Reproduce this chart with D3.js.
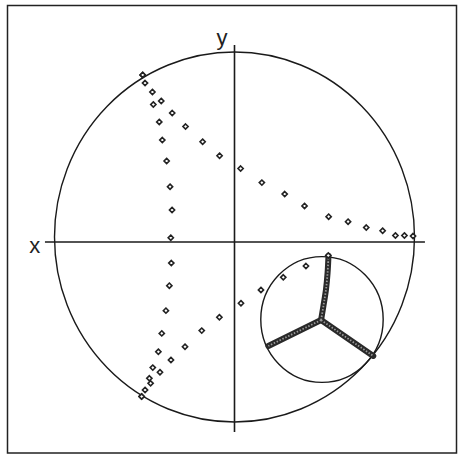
<!DOCTYPE html>
<html>
<head>
<meta charset="utf-8">
<script src="https://cdn.jsdelivr.net/npm/d3@7"></script>
<style>
  html, body { margin: 0; padding: 0; background: #fff; }
  svg { display: block; }
</style>
</head>
<body>
<svg id="chart" width="458" height="455"></svg>
<script>
// Projection-plane coordinates (unit circle = primitive), x to the right, y up.

// Great circle through the upper-left primitive point, running down the left side
const arcWestX = [-0.510, -0.497, -0.456, -0.451, -0.418, -0.401, -0.377, -0.358, -0.347, -0.354,
                  -0.351, -0.362, -0.381, -0.404, -0.423, -0.454, -0.473, -0.497, -0.516];
const arcWestY = [ 0.876,  0.832,  0.784,  0.716,  0.622,  0.524,  0.411,  0.272,  0.146, -0.004,
                  -0.141, -0.263, -0.398, -0.521, -0.620, -0.706, -0.764, -0.827, -0.862];

// Great circle from the upper-left primitive point to the east edge
const arcNorthX = [-0.510, -0.407, -0.346, -0.272, -0.177, -0.083, 0.034, 0.152, 0.279, 0.389,
                    0.523,  0.631,  0.732,  0.823,  0.894,  0.944, 0.992];
const arcNorthY = [ 0.876,  0.735,  0.670,  0.597,  0.515,  0.439, 0.370, 0.294, 0.232, 0.168,
                    0.110,  0.083,  0.051,  0.034,  0.008,  0.008, 0.005];

// Great circle from the lower-left primitive point toward the small circle
const arcSouthX = [-0.516, -0.466, -0.414, -0.353, -0.275, -0.182, -0.084, 0.036, 0.147, 0.271, 0.397, 0.521];
const arcSouthY = [-0.862, -0.791, -0.731, -0.665, -0.593, -0.506, -0.434, -0.358, -0.286, -0.218, -0.157, -0.100];

// Small circle (centre and angular radius in plane units)
const smallCircleCenter = [0.486, -0.446];
const smallCircleRadius = 0.34;

// Three arms meeting at the triple junction inside the small circle
const armUpX   = [0.481, 0.494, 0.508, 0.517, 0.522];
const armUpY   = [-0.449, -0.373, -0.286, -0.195, -0.103];
const armLeftX = [0.481, 0.188];
const armLeftY = [-0.449, -0.589];
const armRightX = [0.481, 0.771];
const armRightY = [-0.449, -0.643];

// Axis labels
const axisLabels = ["x", "y"];

const svg = d3.select("#chart");

const x = d3.scaleLinear().domain([-1, 1]).range([54.5, 414.5]);
const y = d3.scaleLinear().domain([-1, 1]).range([422, 52]);

// frame
svg.append("rect")
  .attr("x", 7.5).attr("y", 5.5)
  .attr("width", 449).attr("height", 447.5)
  .attr("fill", "#fff")
  .attr("stroke", "#222").attr("stroke-width", 1.5);

const ink = "#1a1a1a";

// primitive circle
svg.append("ellipse")
  .attr("cx", x(0)).attr("cy", y(0))
  .attr("rx", x(1) - x(0)).attr("ry", y(0) - y(1))
  .attr("fill", "none").attr("stroke", ink).attr("stroke-width", 1.4);

// axes (crossing slightly below the centre)
const axisYAt = -0.027;
svg.append("line")
  .attr("x1", x(-1.053)).attr("x2", x(1.058))
  .attr("y1", y(axisYAt)).attr("y2", y(axisYAt))
  .attr("stroke", ink).attr("stroke-width", 1.6);
svg.append("line")
  .attr("x1", x(0)).attr("x2", x(0))
  .attr("y1", y(1.038)).attr("y2", y(-1.054))
  .attr("stroke", ink).attr("stroke-width", 1.6);

svg.append("text")
  .attr("x", x(-1.11)).attr("y", y(axisYAt) + 11)
  .attr("text-anchor", "middle")
  .attr("font-family", "Liberation Sans, Arial, sans-serif")
  .attr("font-size", 22).attr("fill", "#222")
  .text(axisLabels[0]);
svg.append("text")
  .attr("x", x(-0.07)).attr("y", y(1.038))
  .attr("text-anchor", "middle")
  .attr("font-family", "Liberation Sans, Arial, sans-serif")
  .attr("font-size", 22).attr("fill", "#222")
  .text(axisLabels[1]);

// small circle
svg.append("ellipse")
  .attr("cx", x(smallCircleCenter[0])).attr("cy", y(smallCircleCenter[1]))
  .attr("rx", x(smallCircleRadius) - x(0)).attr("ry", y(0) - y(smallCircleRadius))
  .attr("fill", "none").attr("stroke", ink).attr("stroke-width", 1.4);

// arms drawn as a dense bead chain
const line = d3.line().x(d => x(d[0])).y(d => y(d[1])).curve(d3.curveCatmullRom);
const arms = [
  d3.zip(armUpX, armUpY),
  d3.zip(armLeftX, armLeftY),
  d3.zip(armRightX, armRightY)
];
const armG = svg.append("g");
armG.selectAll("path.band").data(arms).join("path")
  .attr("class", "band")
  .attr("d", line)
  .attr("fill", "none").attr("stroke", "#2a2a2a").attr("stroke-width", 6)
  .attr("stroke-linecap", "round");
armG.selectAll("path.bead").data(arms).join("path")
  .attr("class", "bead")
  .attr("d", line)
  .attr("fill", "none").attr("stroke", "#9a9a9a").attr("stroke-width", 1.8)
  .attr("stroke-dasharray", "1.5,1.7");

// pole markers
const marker = "M0,-2.6L2.6,0L0,2.6L-2.6,0Z";
const series = [
  d3.zip(arcWestX, arcWestY),
  d3.zip(arcNorthX, arcNorthY),
  d3.zip(arcSouthX, arcSouthY)
];
svg.append("g").selectAll("g").data(series).join("g")
  .selectAll("path").data(d => d).join("path")
  .attr("d", marker)
  .attr("transform", d => `translate(${x(d[0])},${y(d[1])})`)
  .attr("fill", "#fff").attr("stroke", "#222").attr("stroke-width", 1.6);
</script>
</body>
</html>
